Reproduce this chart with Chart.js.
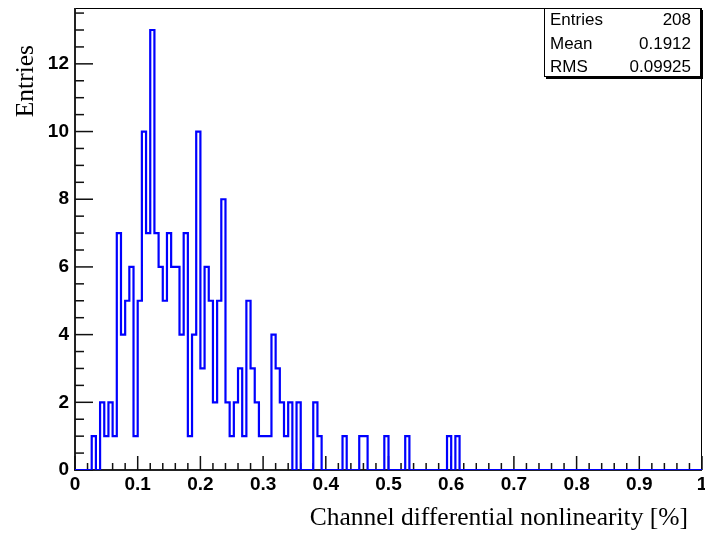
<!DOCTYPE html>
<html><head><meta charset="utf-8">
<script src="https://cdn.jsdelivr.net/npm/chart.js@4/dist/chart.umd.min.js"></script>
<style>html,body{margin:0;padding:0;background:#fff;}canvas{display:block;}</style>
</head><body>
<canvas id="c" width="705" height="535"></canvas>
<script>
// ---- data ----
const xRange = [0, 1];
const binCounts = [
  0,0,0,0,1,0,2,1,2,1,
  7,4,5,6,1,5,10,7,13,7,
  6,5,7,6,6,4,7,1,4,10,
  3,6,5,2,5,8,2,1,2,3,
  1,5,3,2,1,1,1,4,3,2,
  1,2,0,2,0,0,0,2,1,0,
  0,0,0,0,1,0,0,0,1,1,
  0,0,0,0,1,0,0,0,0,1,
  0,0,0,0,0,0,0,0,0,1,
  0,1,0,0,0,0,0,0,0,0,
  0,0,0,0,0,0,0,0,0,0,
  0,0,0,0,0,0,0,0,0,0,
  0,0,0,0,0,0,0,0,0,0,
  0,0,0,0,0,0,0,0,0,0,
  0,0,0,0,0,0,0,0,0,0
];
const xTickLabels = ["0","0.1","0.2","0.3","0.4","0.5","0.6","0.7","0.8","0.9","1"];
const yTickLabels = ["0","2","4","6","8","10","12"];
const xTitle = "Channel differential nonlinearity [%]";
const yTitle = "Entries";
const statsNames = ["Entries","Mean","RMS"];
const statsValues = ["208","0.1912","0.09925"];
const yMax = 13.65;

// ---- build histogram outline points from bins ----
const nBins = binCounts.length;
const binW = (xRange[1]-xRange[0]) / nBins;
const points = binCounts.map((c,k)=>({x: xRange[0]+k*binW, y: c}));
points.push({x: xRange[1], y: binCounts[nBins-1]});

const rootPlugin = {
  id: 'rootStyle',
  beforeDatasetsDraw(chart){
    const {ctx, chartArea:a, scales:{x,y}} = chart;
    ctx.save();
    ctx.strokeStyle = '#000';
    ctx.lineWidth = 1;
    ctx.strokeRect(a.left+0.5, a.top+0.5, a.right-a.left-1, a.bottom-a.top-1);
    ctx.lineWidth = 2;
    ctx.strokeStyle = '#222';
    ctx.beginPath();
    ctx.moveTo(a.left, a.top); ctx.lineTo(a.left, a.bottom); ctx.lineTo(a.right, a.bottom);
    ctx.stroke();
    // x ticks (inside)
    ctx.lineWidth = 1.5;
    ctx.strokeStyle = '#111';
    for (let i=0;i<=50;i++){
      const px = x.getPixelForValue(xRange[0] + i*(xRange[1]-xRange[0])/50);
      const len = (i%5===0)?14:7;
      ctx.beginPath(); ctx.moveTo(px, a.bottom); ctx.lineTo(px, a.bottom-len); ctx.stroke();
    }
    // y ticks (inside)
    for (let i=0;;i++){
      const v = i*0.5; if (v>yMax) break;
      const py = y.getPixelForValue(v);
      const len = (i%4===0)?18:9;
      ctx.beginPath(); ctx.moveTo(a.left, py); ctx.lineTo(a.left+len, py); ctx.stroke();
    }
    ctx.restore();
  },
  afterDraw(chart){
    const {ctx} = chart;
    ctx.save();
    // axis titles
    ctx.fillStyle = '#000';
    ctx.font = '25.5px "Liberation Serif", "Times New Roman", serif';
    ctx.textAlign = 'right';
    ctx.textBaseline = 'alphabetic';
    ctx.fillText(xTitle, 688, 525);
    ctx.translate(33, 45);
    ctx.rotate(-Math.PI/2);
    ctx.fillText(yTitle, 0, 0);
    ctx.restore();
    // stats box
    ctx.save();
    const bx=544, by=8, bw=157, bh=69;
    ctx.fillStyle='#000';
    ctx.fillRect(bx+2, by+2, bw, bh);
    ctx.fillStyle='#fff';
    ctx.fillRect(bx, by, bw, bh);
    ctx.strokeStyle='#000'; ctx.lineWidth=1;
    ctx.strokeRect(bx+0.5, by+0.5, bw-1, bh-1);
    ctx.font='17px "Liberation Sans", Arial, sans-serif';
    ctx.fillStyle='#000';
    ctx.textBaseline='middle';
    const rows=[20,44,67];
    statsNames.forEach((n,i)=>{
      ctx.textAlign='left'; ctx.fillText(n, bx+6, rows[i]);
      ctx.textAlign='right'; ctx.fillText(statsValues[i], bx+bw-10, rows[i]);
    });
    ctx.restore();
  }
};

new Chart(document.getElementById('c').getContext('2d'), {
  type: 'line',
  data: { datasets: [{
    data: points,
    stepped: true,
    borderColor: '#0000ff',
    borderWidth: 2.2,
    pointRadius: 0,
    fill: false,
    tension: 0
  }]},
  options: {
    responsive: false,
    animation: false,
    devicePixelRatio: 1,
    layout: { padding: {left: 0, right: 3, top: 8, bottom: 0} },
    plugins: { legend: {display:false}, tooltip: {enabled:false} },
    scales: {
      x: {
        type: 'linear', min: xRange[0], max: xRange[1],
        grid: {display:false, drawTicks:false}, border: {display:false},
        ticks: {
          stepSize: 0.1, autoSkip: false, maxRotation: 0, includeBounds: false,
          padding: 3, color: '#000',
          font: {family: '"Liberation Sans", Arial, sans-serif', size: 19, weight: 'bold'},
          callback: (v)=>{ const i=Math.round(v*10); return xTickLabels[i] ?? ''; }
        },
        afterFit(s){ s.height = 65; s.paddingLeft = 0; s.paddingRight = 0; }
      },
      y: {
        type: 'linear', min: 0, max: yMax,
        grid: {display:false, drawTicks:false}, border: {display:false},
        ticks: {
          stepSize: 2, autoSkip: false, includeBounds: false,
          padding: 6, color: '#000',
          font: {family: '"Liberation Sans", Arial, sans-serif', size: 19, weight: 'bold'},
          callback: (v)=>{ const i=Math.round(v/2); return (Math.abs(v-2*i)<1e-6) ? (yTickLabels[i] ?? '') : ''; }
        },
        afterFit(s){ s.width = 75; s.paddingTop = 0; s.paddingBottom = 0; }
      }
    }
  },
  plugins: [rootPlugin]
});
</script>
</body></html>
